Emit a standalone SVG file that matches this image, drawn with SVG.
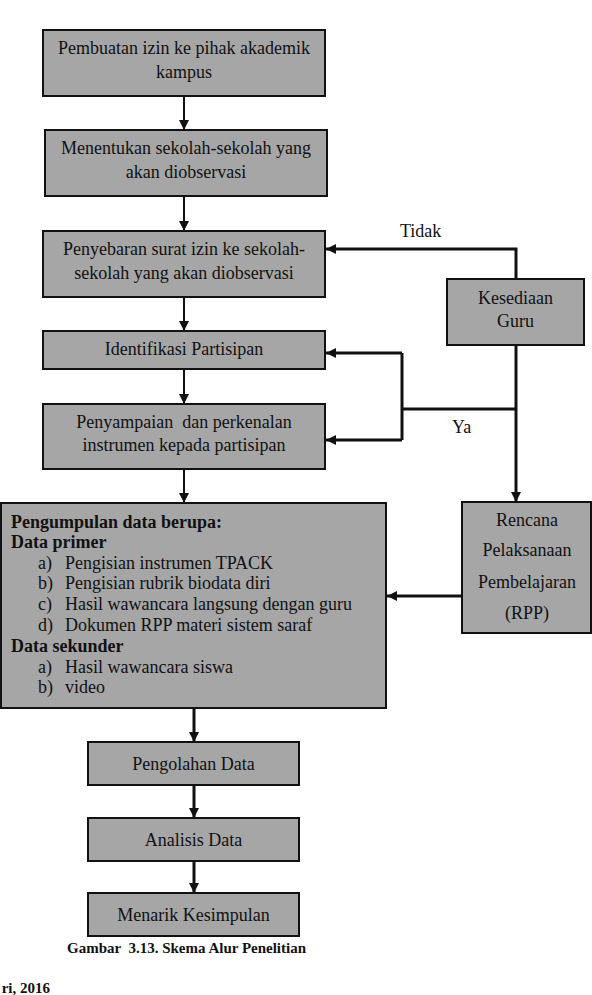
<svg xmlns="http://www.w3.org/2000/svg" width="592" height="995" viewBox="0 0 592 995">
<style>
.box{fill:#a6a6a6;stroke:#111;stroke-width:2}
.t{font-family:"Liberation Serif","Times New Roman",serif;font-size:18px;fill:#111;text-anchor:middle}
.l{font-family:"Liberation Serif","Times New Roman",serif;font-size:18px;fill:#111}
.b{font-weight:bold}
.thin{stroke:#111;stroke-width:2;fill:none}
.thick{stroke:#111;stroke-width:3;fill:none}
.cap{font-family:"Liberation Serif","Times New Roman",serif;font-size:15px;font-weight:bold;fill:#111}
</style>
<defs>
<marker id="ah" markerUnits="userSpaceOnUse" markerWidth="10" markerHeight="10" viewBox="0 0 10 10" refX="10" refY="5" orient="auto">
<path d="M0,0 L10,5 L0,10 z" fill="#111"/>
</marker>
</defs>
<rect width="592" height="995" fill="#fff"/>

<g id="connectors">
<line class="thin" x1="184" y1="96" x2="184" y2="130" marker-end="url(#ah)"/>
<line class="thin" x1="184" y1="196" x2="184" y2="231" marker-end="url(#ah)"/>
<line class="thin" x1="184" y1="297" x2="184" y2="331" marker-end="url(#ah)"/>
<line class="thin" x1="184" y1="369" x2="184" y2="404" marker-end="url(#ah)"/>
<line class="thin" x1="184" y1="469" x2="184" y2="503" marker-end="url(#ah)"/>
<line class="thick" x1="194" y1="708" x2="194" y2="742" marker-end="url(#ah)"/>
<line class="thick" x1="194" y1="785" x2="194" y2="818" marker-end="url(#ah)"/>
<line class="thick" x1="194" y1="861" x2="194" y2="893" marker-end="url(#ah)"/>
<polyline class="thick" points="516,279 516,249 326,249" marker-end="url(#ah)"/>
<line class="thick" x1="516" y1="345" x2="516" y2="502" marker-end="url(#ah)"/>
<line class="thick" x1="516" y1="409" x2="402" y2="409"/>
<polyline class="thick" points="402,353 402,440"/>
<line class="thick" x1="402" y1="353" x2="326" y2="353" marker-end="url(#ah)"/>
<line class="thick" x1="402" y1="440" x2="326" y2="440" marker-end="url(#ah)"/>
<line class="thick" x1="462" y1="596" x2="387" y2="596" marker-end="url(#ah)"/>
<text class="l" x="400" y="237">Tidak</text>
<text class="l" x="452" y="433">Ya</text>
</g>

<g id="n1">
<rect class="box" x="43" y="30" width="282" height="66"/>
<text class="t" x="184" y="54">Pembuatan izin ke pihak akademik</text>
<text class="t" x="184" y="78">kampus</text>
</g>
<g id="n2">
<rect class="box" x="45" y="130" width="282" height="66"/>
<text class="t" x="186" y="154">Menentukan sekolah-sekolah yang</text>
<text class="t" x="186" y="178">akan diobservasi</text>
</g>
<g id="n3">
<rect class="box" x="43" y="231" width="282" height="66"/>
<text class="t" x="184" y="255">Penyebaran surat izin ke sekolah-</text>
<text class="t" x="184" y="279">sekolah yang akan diobservasi</text>
</g>
<g id="n4">
<rect class="box" x="43" y="331" width="282" height="38"/>
<text class="t" x="184" y="355">Identifikasi Partisipan</text>
</g>
<g id="n5">
<rect class="box" x="43" y="404" width="282" height="65"/>
<text class="t" x="184" y="428" xml:space="preserve">Penyampaian  dan perkenalan</text>
<text class="t" x="184" y="451">instrumen kepada partisipan</text>
</g>
<g id="n6">
<rect class="box" x="1" y="503" width="385" height="205"/>
<text class="l b" x="11" y="528">Pengumpulan data berupa:</text>
<text class="l b" x="11" y="548">Data primer</text>
<text class="l" x="38" y="569">a)</text><text class="l" x="65" y="569">Pengisian instrumen TPACK</text>
<text class="l" x="38" y="589">b)</text><text class="l" x="65" y="589">Pengisian rubrik biodata diri</text>
<text class="l" x="38" y="610">c)</text><text class="l" x="65" y="610">Hasil wawancara langsung dengan guru</text>
<text class="l" x="38" y="631">d)</text><text class="l" x="65" y="631">Dokumen RPP materi sistem saraf</text>
<text class="l b" x="11" y="652">Data sekunder</text>
<text class="l" x="38" y="673">a)</text><text class="l" x="65" y="673">Hasil wawancara siswa</text>
<text class="l" x="38" y="693">b)</text><text class="l" x="65" y="693">video</text>
</g>
<g id="n7">
<rect class="box" x="447" y="279" width="137" height="66"/>
<text class="t" x="515.5" y="304">Kesediaan</text>
<text class="t" x="515.5" y="327">Guru</text>
</g>
<g id="n8">
<rect class="box" x="462" y="502" width="129" height="131"/>
<text class="t" x="527" y="526">Rencana</text>
<text class="t" x="527" y="556">Pelaksanaan</text>
<text class="t" x="527" y="588">Pembelajaran</text>
<text class="t" x="527" y="619">(RPP)</text>
</g>
<g id="n9">
<rect class="box" x="88" y="742" width="211" height="43"/>
<text class="t" x="193.5" y="770">Pengolahan Data</text>
</g>
<g id="n10">
<rect class="box" x="88" y="818" width="211" height="43"/>
<text class="t" x="193.5" y="846">Analisis Data</text>
</g>
<g id="n11">
<rect class="box" x="88" y="893" width="211" height="43"/>
<text class="t" x="193.5" y="921">Menarik Kesimpulan</text>
</g>
<text class="cap" x="67" y="953" xml:space="preserve">Gambar  3.13. Skema Alur Penelitian</text>
<text class="cap" x="50" y="993" text-anchor="end" font-size="12">ri, 2016</text>
</svg>
